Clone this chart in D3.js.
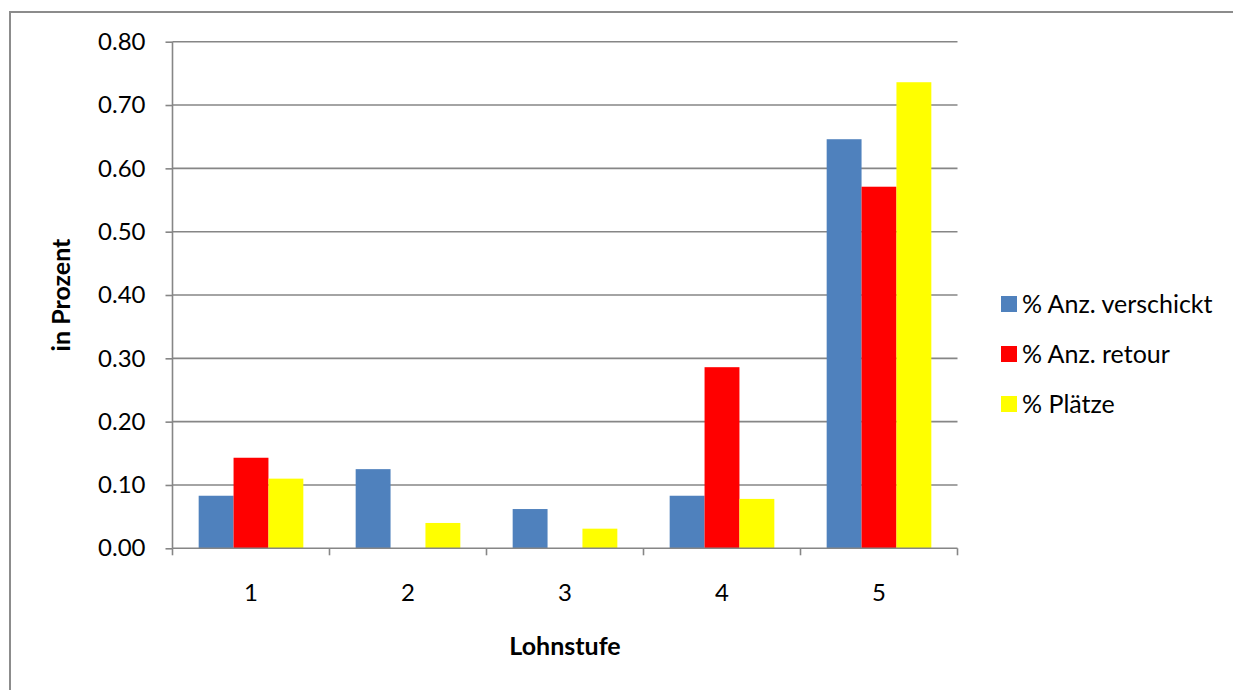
<!DOCTYPE html>
<html>
<head>
<meta charset="utf-8">
<script src="https://cdn.jsdelivr.net/npm/d3@7"></script>
<style>
  html, body { margin: 0; padding: 0; background: #fff; overflow: hidden; }
  svg { display: block; font-family: Lato, "Open Sans", sans-serif; }
</style>
</head>
<body>
<svg id="chart" width="1233" height="690"></svg>
<script>
// ---- data ----
const categories = ["1", "2", "3", "4", "5"];
const seriesNames = ["% Anz. verschickt", "% Anz. retour", "% Plätze"];
const seriesColors = ["#4F81BD", "#FF0000", "#FFFF00"];
const verschickt = [0.083, 0.125, 0.062, 0.083, 0.646];
const retour = [0.143, 0, 0, 0.286, 0.571];
const plaetze = [0.110, 0.040, 0.031, 0.078, 0.736];
const yTicks = [0, 0.1, 0.2, 0.3, 0.4, 0.5, 0.6, 0.7, 0.8];
const yTitle = "in Prozent";
const xTitle = "Lohnstufe";

(function () {
const seriesValues = [verschickt, retour, plaetze];

const svg = d3.select("#chart");
const pLeft = 172.5, pRight = 957.5, pTop = 41.7, pBottom = 548.3;
const grid = "#868686";
const font = "Lato, 'Open Sans', sans-serif";

// outer border (only top and left edges are inside the picture)
svg.append("path").attr("d", "M10,700V12H1240")
  .attr("fill", "none").attr("stroke", "#8c8c8c").attr("stroke-width", 2);

const x0 = d3.scaleBand().domain(categories).range([pLeft, pRight]).padding(0);
const bw = x0.bandwidth();
const x1 = d3.scaleBand().domain(d3.range(seriesNames.length))
  .range([bw * 0.75 / 4.5, bw * 3.75 / 4.5]).padding(0);
const y = d3.scaleLinear().domain([0, 0.8]).range([pBottom, pTop]);

// gridlines
svg.append("g").selectAll("line").data(yTicks.filter(d => d > 0)).join("line")
  .attr("x1", pLeft).attr("x2", pRight)
  .attr("y1", d => y(d)).attr("y2", d => y(d))
  .attr("stroke", grid).attr("stroke-width", 1.6);

// bars
const groups = svg.append("g").selectAll("g").data(categories).join("g")
  .attr("transform", c => `translate(${x0(c)},0)`);
groups.selectAll("rect")
  .data((c, i) => seriesValues.map((vals, s) => ({ s, v: vals[i] })).filter(d => d.v > 0))
  .join("rect")
  .attr("x", d => x1(d.s))
  .attr("width", x1.bandwidth())
  .attr("y", d => y(d.v))
  .attr("height", d => y(0) - y(d.v))
  .attr("fill", d => seriesColors[d.s]);

// y axis
const yAxis = d3.axisLeft(y).tickValues(yTicks).tickFormat(d3.format(".2f"))
  .tickSize(7).tickPadding(20);
const gy = svg.append("g").attr("transform", `translate(${pLeft},0)`).call(yAxis);
gy.select(".domain").attr("stroke", grid).attr("stroke-width", 1.6).attr("d", `M0,${pTop}V${pBottom}`);
gy.selectAll(".tick line").attr("stroke", grid).attr("stroke-width", 1.6);
gy.selectAll(".tick text").attr("fill", "#000").style("font-size", "24px").style("font-family", font);

// x axis
const xAxis = d3.axisBottom(x0).tickSize(0).tickPadding(36);
const gx = svg.append("g").attr("transform", `translate(0,${pBottom})`).call(xAxis);
gx.select(".domain").attr("stroke", grid).attr("stroke-width", 1.6).attr("d", `M${pLeft},0H${pRight}`);
gx.selectAll(".tick text").attr("fill", "#000").style("font-size", "24px").style("font-family", font);
// boundary ticks
gx.append("g").selectAll("line").data(categories.concat(["end"])).join("line")
  .attr("x1", (c, i) => i < categories.length ? x0(c) : pRight)
  .attr("x2", (c, i) => i < categories.length ? x0(c) : pRight)
  .attr("y1", 0).attr("y2", 7)
  .attr("stroke", grid).attr("stroke-width", 1.6);

// axis titles
svg.append("text").attr("transform", "translate(70,295) rotate(-90)")
  .attr("text-anchor", "middle").style("font-size", "25px").style("font-weight", "bold").text(yTitle);
svg.append("text").attr("x", 565).attr("y", 655)
  .attr("text-anchor", "middle").style("font-size", "25px").style("font-weight", "bold").text(xTitle);

// legend
const lg = svg.append("g").selectAll("g").data(seriesNames).join("g")
  .attr("transform", (d, i) => `translate(1001,${304 + i * 50})`);
lg.append("rect").attr("x", 0).attr("y", -8).attr("width", 16).attr("height", 16)
  .attr("fill", (d, i) => seriesColors[i]);
lg.append("text").attr("x", 21).attr("y", 0).attr("dy", "0.35em")
  .style("font-size", "25px").text(d => d);
})();
</script>
</body>
</html>
